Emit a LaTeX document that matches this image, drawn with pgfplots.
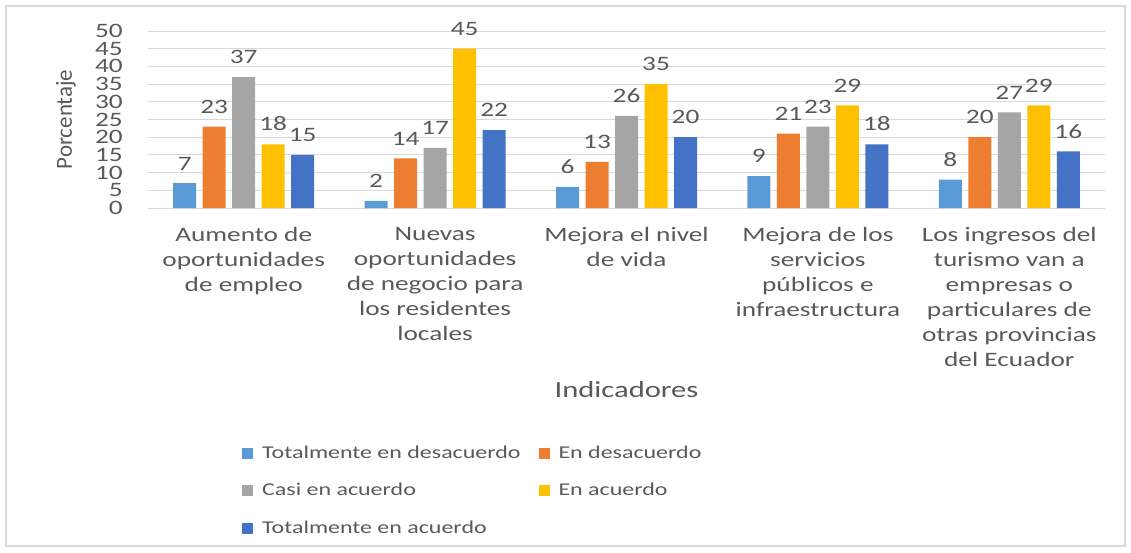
\documentclass[border=0pt]{standalone}
\usepackage{fontspec}
\setmainfont{Carlito}[FakeStretch=1.33]
\newfontfamily\plainfont{Carlito}
\usepackage{pgfplots}
\pgfplotsset{compat=1.18}
\definecolor{c1}{HTML}{5B9BD5}
\definecolor{c2}{HTML}{ED7D31}
\definecolor{c3}{HTML}{A5A5A5}
\definecolor{c4}{HTML}{FFC000}
\definecolor{c5}{HTML}{4472C4}
\definecolor{txt}{HTML}{595959}
\definecolor{grd}{HTML}{D9D9D9}
\begin{document}
\begin{tikzpicture}
\path (-148pt,-344pt) rectangle (983pt,208pt);
\draw[grd, line width=1.5pt] (-142pt,-338pt) rectangle (977pt,202pt);
\begin{axis}[
  /pgf/number format/assume math mode=true,
  scale only axis, width=957pt, height=177pt,
  ymin=0, ymax=50, ytick={0,5,...,50},
  xmin=-0.5, xmax=4.5, xtick={0,1,2,3,4},
  xticklabels={{Aumento de\\oportunidades\\de empleo},
               {Nuevas\\oportunidades\\de negocio para\\los residentes\\locales},
               {Mejora el nivel\\de vida},
               {Mejora de los\\servicios\\públicos e\\infraestructura},
               {Los ingresos del\\turismo van a\\empresas o\\particulares de\\otras provincias\\del Ecuador}},
  ybar=6.5pt, bar width=23pt,
  axis x line*=bottom, axis y line*=left,
  y axis line style={draw=none},
  x axis line style={grd, line width=1pt, -},
  major tick length=0pt,
  ymajorgrids, grid style={grd, line width=1pt},
  tick label style={text=txt, font=\fontsize{20.5}{25}\selectfont, inner sep=0pt},
  yticklabel style={xshift=-25pt},
  xticklabel style={align=center, yshift=-19pt},
  xlabel={Indicadores},
  xlabel style={at={(axis description cs:0.5,-1.028)}, anchor=center, text=txt, font=\fontsize{23}{28}\selectfont},
  ylabel={Porcentaje},
  ylabel style={at={(axis description cs:-0.0857,0.5)}, anchor=center, text=txt, font=\plainfont\fontsize{23}{28}\selectfont},
  nodes near coords,
  nodes near coords style={text=txt, font=\fontsize{20.5}{25}\selectfont, anchor=south, inner sep=0pt, yshift=13pt},
  legend columns=2,
  legend cell align=left,
  legend style={draw=none, fill=none, inner sep=0pt, at={(axis description cs:0.0982,-1.333)}, anchor=north west,
    font=\fontsize{18}{22}\selectfont, text=txt,
    nodes={inner sep=0pt, text height=14pt, text depth=4pt},
    row sep=19.5pt,
    /tikz/every odd column/.append style={column sep=9pt},
    /tikz/every even column/.append style={column sep=18pt}},
  legend image code/.code={\fill[#1] (0pt,-5.5pt) rectangle (11pt,5.5pt);},
]
\addplot[fill=c1, draw=none] coordinates {(0,7) (1,2) (2,6) (3,9) (4,8)};
\addplot[fill=c2, draw=none] coordinates {(0,23) (1,14) (2,13) (3,21) (4,20)};
\addplot[fill=c3, draw=none] coordinates {(0,37) (1,17) (2,26) (3,23) (4,27)};
\addplot[fill=c4, draw=none] coordinates {(0,18) (1,45) (2,35) (3,29) (4,29)};
\addplot[fill=c5, draw=none] coordinates {(0,15) (1,22) (2,20) (3,18) (4,16)};
\legend{Totalmente en desacuerdo, En desacuerdo, Casi en acuerdo, En acuerdo, Totalmente en acuerdo}
\end{axis}
\end{tikzpicture}
\end{document}
